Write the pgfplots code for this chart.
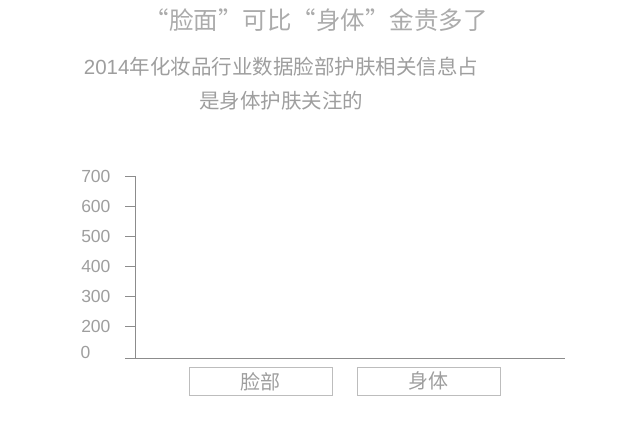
\documentclass[border=0pt]{standalone}
\usepackage{pgfplots}
\pgfplotsset{compat=1.18}
\usepackage{fontspec}
\setmainfont{Liberation Sans}
\newfontfamily\cjk{Noto Sans CJK SC}
\definecolor{txt}{HTML}{9E9E9E}
\definecolor{ttl}{HTML}{ABABAB}
\definecolor{axl}{HTML}{8C8C8C}
\definecolor{boxc}{HTML}{BDBDBD}
\begin{document}
\begin{tikzpicture}[x=1pt,y=1pt]
\useasboundingbox (0,0) rectangle (640,430);
\node[text=ttl,font=\cjk\fontsize{24.5}{28}\selectfont] at (316,410) {“脸面”可比“身体”金贵多了};
\node[text=txt,font=\fontsize{20.5}{24}\selectfont] at (281,363) {2014{\cjk 年化妆品行业数据脸部护肤相关信息占}};
\node[text=txt,font=\cjk\fontsize{20.5}{24}\selectfont] at (281,329) {是身体护肤关注的};
\begin{axis}[
  at={(135pt,72pt)}, anchor=origin,
  scale only axis, width=430pt, height=182pt,
  xmin=0, xmax=430, ymin=0, ymax=182,
  axis lines*=left,
  axis line style={axl, line width=0.8pt},
  tick style={axl, line width=0.8pt},
  tick align=outside,
  major tick length=10pt,
  ytick={32,62,92,122,152,182},
  yticklabels={200,300,400,500,600,700},
  extra y ticks={0},
  extra y tick labels={0},
  extra y tick style={yticklabel style={yshift=6pt, xshift=-20pt}},
  yticklabel style={text=txt, font=\fontsize{17.5}{20}\selectfont, xshift=-11pt},
  /pgf/number format/assume math mode=true,
  xtick={125.5,293.5},
  xticklabels={脸部,身体},
  x tick style={draw=none},
  xticklabel style={font=\cjk\fontsize{20}{22}\selectfont, text=txt, draw=boxc, line width=0.8pt,
    minimum width=143pt, minimum height=28pt, inner sep=0pt, yshift=1pt},
  clip=false,
]
\addplot[ybar, bar width=60pt, fill=none, draw=none] coordinates {(125.5,0) (293.5,0)};
\end{axis}
\end{tikzpicture}
\end{document}
